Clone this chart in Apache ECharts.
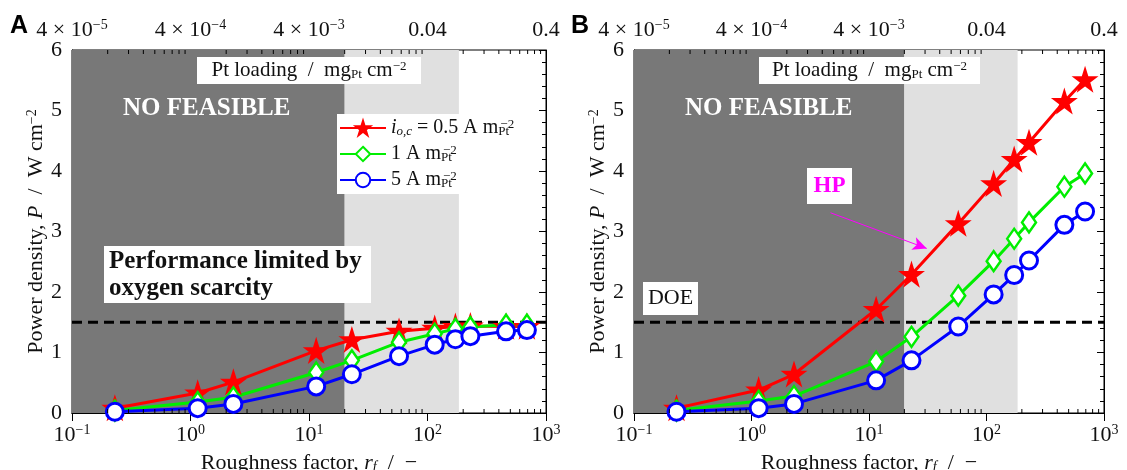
<!DOCTYPE html>
<html>
<head>
<meta charset="utf-8">
<script src="https://cdn.jsdelivr.net/npm/echarts@6/dist/echarts.min.js"></script>
<style>
  html, body { margin: 0; padding: 0; background: #fff; }
  #chart { width: 1127px; height: 470px; }
</style>
</head>
<body>
<div id="chart"></div>
<script>
// roughness factor of each simulated electrode
const rf = [0.23, 1.15, 2.3, 11.5, 23, 57.5, 115, 172, 230, 460, 690];

// panel A
const redA   = [0.08, 0.33, 0.51, 1.03, 1.21, 1.35, 1.40, 1.43, 1.44, 1.43, 1.43];
const greenA = [0.04, 0.18, 0.26, 0.67, 0.87, 1.17, 1.31, 1.39, 1.42, 1.46, 1.46];
const blueA  = [0.02, 0.08, 0.15, 0.44, 0.64, 0.94, 1.13, 1.22, 1.27, 1.35, 1.37];

// panel B
const redB   = [0.08, 0.38, 0.64, 1.71, 2.29, 3.13, 3.79, 4.19, 4.47, 5.15, 5.51];
const greenB = [0.04, 0.20, 0.28, 0.85, 1.26, 1.94, 2.51, 2.88, 3.15, 3.74, 3.96];
const blueB  = [0.02, 0.08, 0.15, 0.54, 0.87, 1.43, 1.96, 2.28, 2.52, 3.11, 3.33];

const doeTarget = 1.5;
const infeasibleEnd = 20;   // rf where "no feasible" zone ends
const lightEnd = 184;       // rf where light grey zone ends

// top axis: Pt loading for each decade of rf
const topTicks = [0.1, 1, 10, 100, 1000];
const topLabels = ['4 × 10{sup|−5}', '4 × 10{sup|−4}', '4 × 10{sup|−3}', '0.04', '0.4'];

// minor log ticks 2..9 of every decade
const minorTicks = [];
[0.1, 1, 10, 100].forEach(d => { for (let k = 2; k <= 9; k++) minorTicks.push(+(d * k).toPrecision(3)); });

const serif = 'Liberation Serif';
const rich = {
  it:  { fontFamily: serif, fontSize: 22, fontStyle: 'italic', color: '#111' },
  sup: { fontFamily: serif, fontSize: 14, color: '#111', verticalAlign: 'top', lineHeight: 14 },
  sub: { fontFamily: serif, fontSize: 14, color: '#111', verticalAlign: 'bottom', lineHeight: 14 },
  subi:{ fontFamily: serif, fontSize: 14, fontStyle: 'italic', color: '#111', verticalAlign: 'bottom', lineHeight: 14 }
};
const richL = {
  it:  { fontFamily: serif, fontSize: 20, fontStyle: 'italic', color: '#111' },
  sup: { fontFamily: serif, fontSize: 13, color: '#111', verticalAlign: 'top', lineHeight: 13 },
  sub: { fontFamily: serif, fontSize: 13, color: '#111', verticalAlign: 'bottom', lineHeight: 13 },
  // subscript that takes no width, so the following superscript stacks over it
  subw:{ fontFamily: serif, fontSize: 13, color: '#111', verticalAlign: 'bottom', lineHeight: 13, width: 2 },
  subi:{ fontFamily: serif, fontSize: 13, fontStyle: 'italic', color: '#111', verticalAlign: 'bottom', lineHeight: 13 }
};

const names = ['io05', 'io1', 'io5'];
const legendText = {
  io05: '{it|i}{subi|o,c} = 0.5 A m{subw|Pt}{sup|−2}',
  io1: '1 A m{subw|Pt}{sup|−2}',
  io5: '5 A m{subw|Pt}{sup|−2}'
};

const chart = echarts.init(document.getElementById('chart'));

const grids = [
  { left: 72, top: 50, width: 474, height: 363 },
  { left: 634, top: 50, width: 470, height: 363 }
];

function xAxes(i) {
  return [
    {
      type: 'log', gridIndex: i, min: 0.1, max: 1000, logBase: 10,
      axisLine: { show: true, lineStyle: { color: '#000', width: 1 } },
      axisTick: { show: true, inside: true, length: 8, lineStyle: { color: '#000' } },
      splitLine: { show: false },
      axisLabel: {
        margin: 10, color: '#111', fontFamily: serif, fontSize: 22, lineHeight: 24, rich: rich,
        formatter: v => '10{sup|' + String(Math.round(Math.log10(v))).replace('-', '−') + '}'
      },
      name: 'Roughness factor, {it|r}{subi|f}  /  −',
      nameLocation: 'middle', nameGap: 36,
      nameTextStyle: { fontFamily: serif, fontSize: 22, color: '#111', rich: rich }
    },
    {
      type: 'log', gridIndex: i, min: 0.1, max: 1000, logBase: 10, position: 'top',
      axisLine: { show: true, lineStyle: { color: '#000', width: 1 } },
      axisTick: { show: true, inside: true, length: 8, lineStyle: { color: '#000' } },
      splitLine: { show: false },
      axisLabel: {
        margin: 8, color: '#111', fontFamily: serif, fontSize: 22, lineHeight: 24, rich: rich,
        formatter: v => topLabels[topTicks.indexOf(Math.round(v * 10) / 10)] || ''
      }
    }
  ];
}

function yAxes(i) {
  return [
    {
      type: 'value', gridIndex: i, min: 0, max: 6, interval: 1,
      axisLine: { show: true, lineStyle: { color: '#000', width: 1 } },
      axisTick: { show: true, inside: true, length: 7, lineStyle: { color: '#000' } },
      minorTick: { show: true, splitNumber: 5, length: 4, lineStyle: { color: '#000' } },
      splitLine: { show: false },
      axisLabel: { margin: 10, color: '#111', fontFamily: serif, fontSize: 22 },
      name: 'Power density, {it|P}  /  W cm{sup|−2}',
      nameLocation: 'middle', nameGap: 20,
      nameTextStyle: { fontFamily: serif, fontSize: 22, color: '#111', rich: rich }
    },
    {
      type: 'value', gridIndex: i, min: 0, max: 6, interval: 1, position: 'right',
      axisLine: { show: true, lineStyle: { color: '#000', width: 1 } },
      axisTick: { show: true, inside: true, length: 7, lineStyle: { color: '#000' } },
      minorTick: { show: true, splitNumber: 5, length: 4, lineStyle: { color: '#000' } },
      splitLine: { show: false },
      axisLabel: { show: false }
    }
  ];
}

const styles = {
  io05: { color: '#ff0000', fill: '#ff0000', symbol: 'path://M50,0 L61.2,34.5 L97.6,34.5 L68.2,55.9 L79.4,90.5 L50,69.1 L20.6,90.5 L31.8,55.9 L2.4,34.5 L38.8,34.5 Z', size: 21, border: 2 },
  io1:  { color: '#00ee00', fill: '#fff', symbol: 'diamond', size: [14, 20], border: 2.5 },
  io5:  { color: '#0000ff', fill: '#fff', symbol: 'circle', size: 17, border: 3 }
};

function dataSeries(i, key, vals, extra) {
  const s = styles[key];
  return Object.assign({
    name: key, type: 'line', xAxisIndex: 2 * i, yAxisIndex: 2 * i, z: 3,
    data: rf.map((x, j) => [x, vals[j]]),
    symbol: s.symbol, symbolSize: s.size, showAllSymbol: true,
    lineStyle: { color: s.color, width: 3 },
    itemStyle: { color: s.fill, borderColor: s.color, borderWidth: s.border },
    emphasis: { disabled: true },
    animation: false
  }, extra || {});
}

function bgSeries(i) {
  return {
    name: 'doe' + i, type: 'line', xAxisIndex: 2 * i, yAxisIndex: 2 * i, z: 2,
    data: [[0.1, doeTarget], [1000, doeTarget]],
    symbol: 'none',
    lineStyle: { color: '#000', width: 3, type: [10, 6] },
    animation: false,
    markArea: {
      silent: true,
      data: [
        [{ xAxis: 0.1, itemStyle: { color: '#787878' } }, { xAxis: infeasibleEnd }],
        [{ xAxis: infeasibleEnd, itemStyle: { color: '#e0e0e0' } }, { xAxis: lightEnd }]
      ]
    }
  };
}

function minorSeries(i) {
  return {
    type: 'custom', xAxisIndex: 2 * i, yAxisIndex: 2 * i, z: 4, silent: true,
    data: minorTicks.map(v => [v]),
    clip: false,
    renderItem: (params, api) => {
      const b = api.coord([api.value(0), 0]);
      const t = api.coord([api.value(0), 6]);
      const st = { stroke: '#000', lineWidth: 1 };
      return {
        type: 'group', children: [
          { type: 'line', shape: { x1: b[0], y1: b[1], x2: b[0], y2: b[1] - 4 }, style: st },
          { type: 'line', shape: { x1: t[0], y1: t[1], x2: t[0], y2: t[1] + 4 }, style: st }
        ]
      };
    }
  };
}

// white annotation box with centred text
function box(x, y, w, h, text, font, color) {
  return [
    { type: 'rect', z: 10, shape: { x: x, y: y, width: w, height: h }, style: { fill: '#fff' } },
    { type: 'text', z: 11, x: x + w / 2, y: y + h / 2, style: Object.assign({ text: text, align: 'center', verticalAlign: 'middle', fill: color || '#111', rich: richL }, font) }
  ];
}

const normal = { fontFamily: serif, fontSize: 21 };
const bold = { fontFamily: serif, fontSize: 25, fontWeight: 'bold' };

chart.setOption({
  backgroundColor: '#fff',
  animation: false,
  grid: grids.map(g => Object.assign({ show: true, borderColor: '#000', borderWidth: 1, backgroundColor: '#fff', containLabel: false, outerBoundsMode: 'none' }, g)),
  xAxis: [...xAxes(0), ...xAxes(1)],
  yAxis: [...yAxes(0), ...yAxes(1)],
  legend: {
    data: names, orient: 'vertical', left: 337, top: 114,
    backgroundColor: '#fff', padding: [4, 8, 4, 2], itemGap: 6, itemWidth: 46, itemHeight: 18,
    textStyle: { fontFamily: serif, fontSize: 20, color: '#111', rich: richL },
    formatter: n => legendText[n],
    selectedMode: false
  },
  graphic: [
    { type: 'text', x: 10, y: 14, z: 12, style: { text: 'A', fontFamily: 'Liberation Sans', fontWeight: 'bold', fontSize: 25, fill: '#000' } },
    { type: 'text', x: 571, y: 14, z: 12, style: { text: 'B', fontFamily: 'Liberation Sans', fontWeight: 'bold', fontSize: 25, fill: '#000' } },
    ...box(197, 57, 224, 27, 'Pt loading  /  mg{sub|Pt} cm{sup|−2}', normal),
    ...box(759, 57, 221, 27, 'Pt loading  /  mg{sub|Pt} cm{sup|−2}', normal),
    { type: 'text', x: 123, y: 96, z: 11, style: Object.assign({ text: 'NO FEASIBLE', fill: '#fff' }, bold) },
    { type: 'text', x: 685, y: 96, z: 11, style: Object.assign({ text: 'NO FEASIBLE', fill: '#fff' }, bold) },
    { type: 'rect', z: 10, shape: { x: 104, y: 246, width: 267, height: 57 }, style: { fill: '#fff' } },
    { type: 'text', z: 11, x: 109, y: 248, style: Object.assign({ text: 'Performance limited by\noxygen scarcity', fill: '#111', lineHeight: 27 }, bold) },
    ...box(807, 168, 45, 36, 'HP', { fontFamily: serif, fontSize: 23, fontWeight: 'bold' }, '#ff00ff'),
    ...box(643, 282, 55, 33, 'DOE', { fontFamily: serif, fontSize: 22 })
  ],
  series: [
    bgSeries(0),
    dataSeries(0, 'io05', redA),
    dataSeries(0, 'io1', greenA),
    dataSeries(0, 'io5', blueA),
    minorSeries(0),
    bgSeries(1),
    dataSeries(1, 'io05', redB, {
      markLine: {
        silent: true, z: 5, symbol: ['none', 'arrow'], symbolSize: [10, 14],
        lineStyle: { color: '#ff00ff', width: 1, type: 'solid' },
        label: { show: false },
        data: [[{ coord: [4.7, 3.31] }, { coord: [31, 2.72] }]]
      }
    }),
    dataSeries(1, 'io1', greenB),
    dataSeries(1, 'io5', blueB),
    minorSeries(1)
  ]
});
</script>
</body>
</html>
